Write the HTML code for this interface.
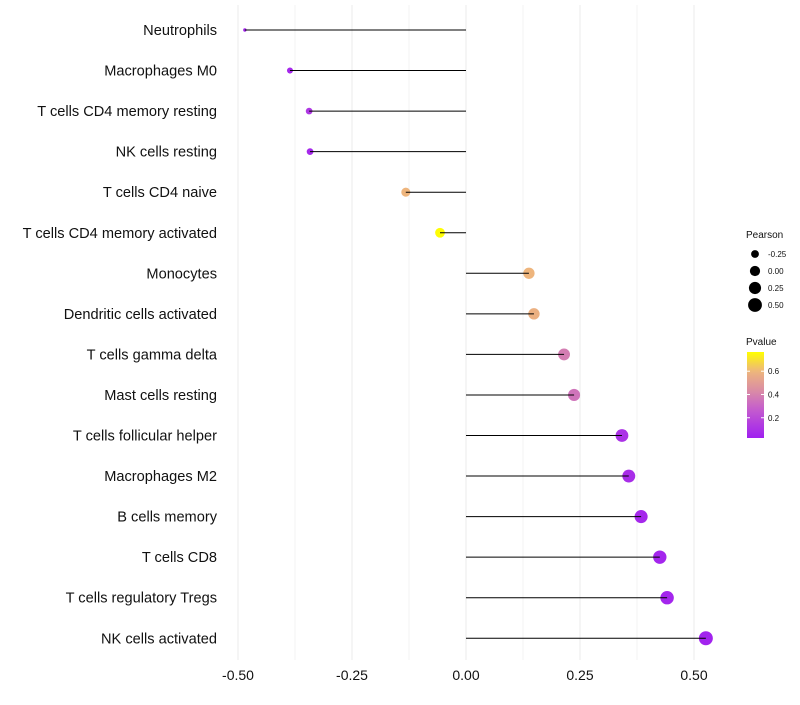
<!DOCTYPE html>
<html><head><meta charset="utf-8"><style>
body{margin:0;background:#fff;font-family:"Liberation Sans",sans-serif}
svg text{font-family:"Liberation Sans",sans-serif}
</style></head><body>
<svg id="c" width="800" height="700"></svg>
<script>
const categories=["Neutrophils","Macrophages M0","T cells CD4 memory resting","NK cells resting","T cells CD4 naive","T cells CD4 memory activated","Monocytes","Dendritic cells activated","T cells gamma delta","Mast cells resting","T cells follicular helper","Macrophages M2","B cells memory","T cells CD8","T cells regulatory  Tregs ","NK cells activated"];
const pearson=[-0.485,-0.386,-0.344,-0.342,-0.132,-0.057,0.138,0.149,0.215,0.237,0.342,0.357,0.384,0.425,0.441,0.526];
const pvalue=[0.05,0.06,0.12,0.06,0.6,0.76,0.6,0.58,0.38,0.35,0.1,0.08,0.06,0.05,0.05,0.04];
const xTicks=[-0.5,-0.25,0,0.25,0.5];
const xTickLabels=["-0.50","-0.25","0.00","0.25","0.50"];
const sizeBreaks=[-0.25,0,0.25,0.5];
const sizeLabels=["-0.25","0.00","0.25","0.50"];
const colorBreaks=[0.2,0.4,0.6];

const NS="http://www.w3.org/2000/svg",svg=document.getElementById('c');
const X=v=>466+v*456;
const Y=i=>30+i*40.55;
const pMin=0.026,pMax=0.765,sMin=-0.485,sMax=0.526;
const R=v=>{const t=Math.max(0,(v-sMin)/(sMax-sMin));return 1.7+5.3*Math.pow(t,0.6);};
const stops=[[0,[160,32,240]],[0.33,[196,92,206]],[0.55,[218,140,165]],[0.78,[238,182,124]],[1,[255,255,0]]];
function col(p){let t=Math.min(1,Math.max(0,(p-pMin)/(pMax-pMin)));for(let k=1;k<stops.length;k++){if(t<=stops[k][0]){const a=stops[k-1],b=stops[k],f=(t-a[0])/(b[0]-a[0]);return 'rgb('+a[1].map((c,j)=>Math.round(c+(b[1][j]-c)*f)).join(',')+')';}}return 'rgb(255,255,0)';}
function el(tag,at,txt){const e=document.createElementNS(NS,tag);for(const k in at)e.setAttribute(k,at[k]);if(txt!=null)e.textContent=txt;svg.appendChild(e);return e;}
for(let v=-0.5;v<=0.5001;v+=0.125){const g=el('line',{x1:X(v),x2:X(v),y1:5,y2:660,stroke:Math.abs((v*4)%1)<1e-6?'#ebebeb':'#f3f3f3','stroke-width':1});

}
xTicks.forEach((v,i)=>{const t=el('text',{x:X(v),y:680,'text-anchor':'middle','font-size':14,fill:'#111'},xTickLabels[i]);

});
categories.forEach((c,i)=>{const y=Y(i);
const t=el('text',{x:217,y:y+5,'text-anchor':'end','font-size':14.6,fill:'#111'},c);


const d=el('circle',{cx:X(pearson[i]),cy:y,r:R(pearson[i]),fill:col(pvalue[i])});


const l=el('line',{x1:X(0),x2:X(pearson[i]),y1:y,y2:y,stroke:'#000','stroke-width':1});

});
let t=el('text',{x:746,y:238,'font-size':10,fill:'#111'},'Pearson');


sizeBreaks.forEach((v,i)=>{const y=254+i*17;
const c=el('circle',{cx:755,cy:y,r:R(v),fill:'#000'});


const tt=el('text',{x:768,y:y+3,'font-size':8,fill:'#111'},sizeLabels[i]);

});
t=el('text',{x:746,y:345,'font-size':10,fill:'#111'},'Pvalue');


const defs=el('defs',{});const lg=document.createElementNS(NS,'linearGradient');lg.setAttribute('id','g');lg.setAttribute('x1','0');lg.setAttribute('y1','1');lg.setAttribute('x2','0');lg.setAttribute('y2','0');defs.appendChild(lg);
for(let k=0;k<=20;k++){const s=document.createElementNS(NS,'stop');s.setAttribute('offset',k/20);s.setAttribute('stop-color',col(pMin+(pMax-pMin)*k/20));lg.appendChild(s);}
const bar=el('rect',{x:747,y:352,width:17,height:86,fill:'url(#g)'});


const CY=p=>438-(p-pMin)/(pMax-pMin)*86;
colorBreaks.forEach(p=>{
el('line',{x1:747,x2:750,y1:CY(p),y2:CY(p),stroke:'#fff'});el('line',{x1:761,x2:764,y1:CY(p),y2:CY(p),stroke:'#fff'});
const tt=el('text',{x:768,y:CY(p)+3,'font-size':8,fill:'#111'},p.toFixed(1));

});
</script>
</body></html>
